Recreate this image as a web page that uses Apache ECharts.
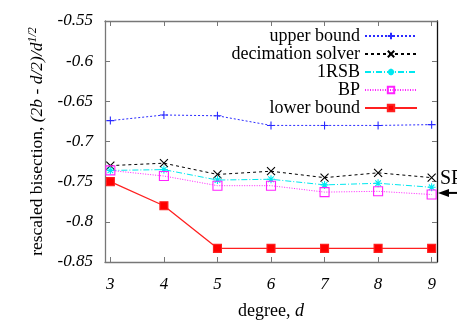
<!DOCTYPE html>
<html><head><meta charset="utf-8">
<script src="https://cdn.jsdelivr.net/npm/echarts@6/dist/echarts.min.js"></script>
<style>html,body{margin:0;padding:0;background:#fff}#c{width:457px;height:320px}</style>
</head><body><div id="c"></div>
<script>
const degrees = [3, 4, 5, 6, 7, 8, 9];
const upperBound = [-0.674, -0.667, -0.668, -0.680, -0.680, -0.680, -0.679];
const decimation = [-0.730, -0.727, -0.741, -0.737, -0.745, -0.739, -0.745];
const rsb1 = [-0.736, -0.735, -0.748, -0.747, -0.754, -0.752, -0.757];
const bp = [-0.736, -0.743, -0.755, -0.755, -0.763, -0.762, -0.766];
const lowerBound = [-0.750, -0.780, -0.833, -0.833, -0.833, -0.833, -0.833];
const seriesNames = ['upper bound', 'decimation solver', '1RSB', 'BP', 'lower bound'];
const spValue = -0.764;
const spLabel = 'SP';

const FONT = 'Liberation Serif';
const pair = arr => degrees.map((d, i) => [d, arr[i]]);
const PLUS = 'path://M0,5L10,5M5,0L5,10';
const CROSS = 'path://M0,0L10,10M10,0L0,10';
const STAR = 'path://M0,5L10,5M5,0L5,10M1.5,1.5L8.5,8.5M8.5,1.5L1.5,8.5';

function mk(name, data, color, dash, symbol, size, width, fill) {
  return {
    name: name, type: 'line', data: pair(data),
    symbol: symbol, symbolSize: size,
    lineStyle: { color: color, width: width, type: dash },
    itemStyle: { color: fill, borderColor: color, borderWidth: 1.1 },
    emphasis: { disabled: true }, silent: true
  };
}

const chart = echarts.init(document.getElementById('c'), null, { renderer: 'canvas' });
const frame = '#777';
const tickLabel = { fontFamily: FONT, fontStyle: 'italic', fontSize: 17, color: '#000' };
const xCommon = { type: 'value', min: 2.9, max: 9.1, splitLine: { show: false } };
const yCommon = { type: 'value', min: -0.85, max: -0.55, interval: 0.05, splitLine: { show: false } };
chart.setOption({
  animation: false,
  backgroundColor: '#fff',
  grid: { left: 105, right: 20, top: 21, bottom: 58, containLabel: false, outerBoundsMode: 'none' },
  xAxis: [
    Object.assign({}, xCommon, {
      position: 'bottom',
      axisLine: { show: true, lineStyle: { color: frame, width: 1.3 } },
      axisTick: { show: true, inside: true, length: 5, customValues: degrees, lineStyle: { color: frame } },
      axisLabel: Object.assign({ customValues: degrees, margin: 14 }, tickLabel),
      name: '{n|degree, }{i|d}', nameLocation: 'middle', nameGap: 40,
      nameTextStyle: { rich: { n: { fontFamily: FONT, fontSize: 18, color: '#000' }, i: { fontFamily: FONT, fontSize: 18, fontStyle: 'italic', color: '#000' } } }
    }),
    Object.assign({}, xCommon, {
      position: 'top',
      axisLine: { show: true, lineStyle: { color: frame, width: 1.3 } },
      axisTick: { show: true, inside: true, length: 5, customValues: degrees, lineStyle: { color: frame } },
      axisLabel: { show: false }
    })
  ],
  yAxis: [
    Object.assign({}, yCommon, {
      position: 'left',
      axisLine: { show: true, lineStyle: { color: frame, width: 1.3 } },
      axisTick: { show: true, inside: true, length: 5, lineStyle: { color: frame } },
      axisLabel: Object.assign({ margin: 12 }, tickLabel),
      name: '{n|rescaled bisection, }{i|(2b - d/2)/d}{s|1/2}', nameLocation: 'middle', nameRotate: 90, nameGap: 39,
      nameTextStyle: { rich: {
        n: { fontFamily: FONT, fontSize: 17.5, color: '#000' },
        i: { fontFamily: FONT, fontSize: 17.5, fontStyle: 'italic', color: '#000' },
        s: { fontFamily: FONT, fontSize: 12, fontStyle: 'italic', color: '#000', padding: [0, 0, 9, 0] }
      } }
    }),
    Object.assign({}, yCommon, {
      position: 'right',
      axisLine: { show: true, lineStyle: { color: '#111', width: 1.3 } },
      axisTick: { show: true, inside: true, length: 5, lineStyle: { color: frame } },
      axisLabel: { show: false }
    })
  ],
  legend: {
    orient: 'vertical', align: 'right', right: 34, top: 22,
    itemWidth: 52, itemHeight: 8, itemGap: 0,
    textStyle: { fontFamily: FONT, fontSize: 18, color: '#000', lineHeight: 17.5 },
    data: seriesNames, selectedMode: false
  },
  series: [
    mk(seriesNames[0], upperBound, '#2a2aff', [2, 2], PLUS, 8, 1, '#2a2aff'),
    mk(seriesNames[1], decimation, '#000', [3, 3], CROSS, 8, 1, '#000'),
    mk(seriesNames[2], rsb1, '#00e8f0', [6, 2, 1, 2], STAR, 8, 1, '#00e8f0'),
    mk(seriesNames[3], bp, '#ff22ff', [1, 1.5], 'rect', 9, 1, 'rgba(255,255,255,0)'),
    mk(seriesNames[4], lowerBound, '#ff2020', 'solid', 'rect', 8, 1.3, '#ff0000')
  ]
});

const p = chart.convertToPixel({ xAxisIndex: 0, yAxisIndex: 0 }, [9.1, spValue]);
chart.setOption({
  graphic: [
    { type: 'text', left: p[0] + 3, top: p[1] - 24, style: { text: spLabel, fontFamily: FONT, fontSize: 20, fill: '#000' } },
    { type: 'line', shape: { x1: p[0] + 6, y1: p[1], x2: 460, y2: p[1] }, style: { stroke: '#000', lineWidth: 2 } },
    { type: 'polygon', shape: { points: [[p[0] + 1, p[1]], [p[0] + 12, p[1] - 4], [p[0] + 12, p[1] + 4]] }, style: { fill: '#000' } }
  ]
});
</script></body></html>
